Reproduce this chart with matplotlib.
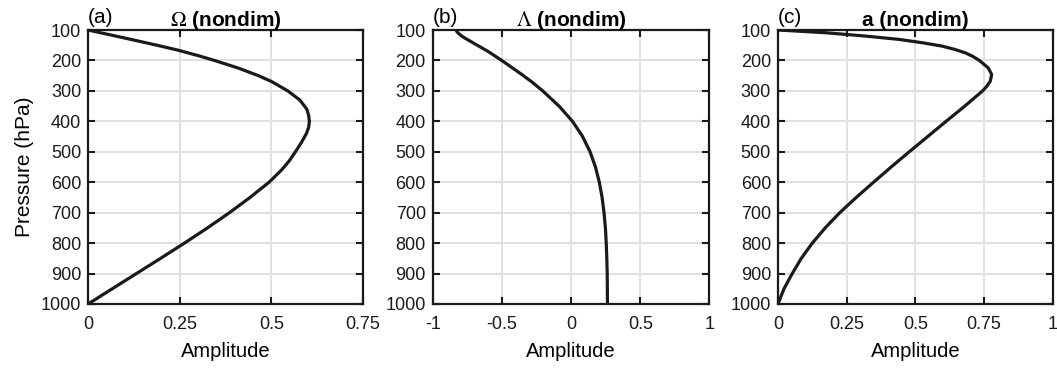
import matplotlib
matplotlib.use('Agg')
from matplotlib import pyplot as plt

plt.rcParams['font.family'] = ['Liberation Sans', 'DejaVu Sans']
plt.rcParams['mathtext.fontset'] = 'stix'

# данные (давление в гПа, амплитуда безразмерная)
p_omega = [100, 125, 150, 166, 185, 200, 225, 250, 270, 300, 330, 360, 380, 400, 420,
           440, 470, 500, 530, 560, 600, 650, 700, 750, 800, 850, 900, 950, 1000]
omega = [0.0, 0.095, 0.188, 0.245, 0.303, 0.345, 0.41, 0.465, 0.502, 0.545, 0.578,
         0.597, 0.602, 0.604, 0.602, 0.596, 0.582, 0.566, 0.549, 0.528, 0.494, 0.442,
         0.386, 0.326, 0.263, 0.198, 0.132, 0.066, 0.0]

p_lambda = [100, 105, 111, 120, 127, 149, 171, 200, 242, 270, 300, 351, 400, 449, 500,
            550, 600, 650, 700, 750, 800, 850, 900, 950, 1000]
lam = [-0.831, -0.826, -0.814, -0.79, -0.766, -0.682, -0.598, -0.501, -0.369, -0.285,
       -0.205, -0.085, 0.01, 0.082, 0.137, 0.176, 0.204, 0.224, 0.238, 0.248, 0.254,
       0.258, 0.261, 0.262, 0.263]

p_a = [100, 109, 120, 131, 142, 153, 164, 175, 187, 200, 224, 246, 268, 285, 300, 350,
       400, 450, 500, 550, 600, 650, 700, 750, 800, 850, 900, 950, 1000]
amp_a = [0.0, 0.175, 0.32, 0.442, 0.527, 0.598, 0.645, 0.682, 0.71, 0.733, 0.765, 0.778,
         0.773, 0.76, 0.745, 0.68, 0.612, 0.545, 0.478, 0.412, 0.348, 0.285, 0.225,
         0.172, 0.125, 0.085, 0.052, 0.022, 0.0]

p_ticks = [100, 200, 300, 400, 500, 600, 700, 800, 900, 1000]

panels = [
    ('(a)', r'$\Omega$ (nondim)', omega, p_omega, (0, 0.75), [0, 0.25, 0.5, 0.75], ['0', '0.25', '0.5', '0.75']),
    ('(b)', r'$\Lambda$ (nondim)', lam, p_lambda, (-1, 1), [-1, -0.5, 0, 0.5, 1], ['-1', '-0.5', '0', '0.5', '1']),
    ('(c)', 'a (nondim)', amp_a, p_a, (0, 1), [0, 0.25, 0.5, 0.75, 1], ['0', '0.25', '0.5', '0.75', '1']),
]

fig = plt.figure(figsize=(10.57, 3.71), dpi=100)
lefts = [0.0833, 0.4094, 0.736]
widths = [0.260, 0.2618, 0.2599]

for i, (letter, title, xs, ps, xlim, xt, xtl) in enumerate(panels):
    ax = fig.add_axes([lefts[i], 0.1806, widths[i], 0.7385])
    ax.plot(xs, ps, color='#1a1a1a', linewidth=2.3, solid_capstyle='round',
            solid_joinstyle='round', zorder=3)
    ax.set_xlim(*xlim)
    ax.set_ylim(1000, 100)
    ax.set_yticks(p_ticks)
    ax.set_yticklabels([str(p) for p in p_ticks])
    ax.set_xticks(xt)
    ax.set_xticklabels(xtl)
    ax.grid(True, color='#e0e0e0', linewidth=1.4, zorder=0)
    ax.set_axisbelow(True)
    for s in ax.spines.values():
        s.set_linewidth(1.6)
        s.set_color('#1a1a1a')
    ax.tick_params(direction='in', length=5, width=1.5, top=True, right=True,
                   labelsize=13, colors='#1a1a1a', pad=5)
    ax.tick_params(axis='x', pad=9)
    ax.set_xlabel('Amplitude', fontsize=14.5, labelpad=6)
    ax.set_title(title, fontsize=15, fontweight='bold', pad=3)
    ax.text(0.0, 1.01, letter, transform=ax.transAxes, fontsize=15, ha='left', va='bottom')
    if i == 0:
        ax.set_ylabel('Pressure (hPa)', fontsize=15, labelpad=5)

plt.savefig('out.png', dpi=100)
